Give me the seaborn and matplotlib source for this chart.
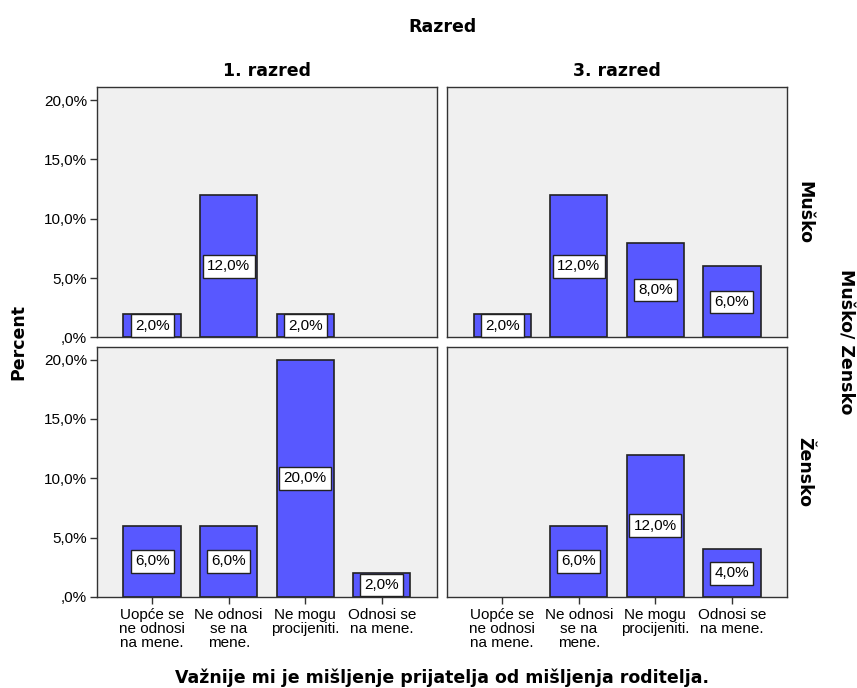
import matplotlib
matplotlib.use("Agg")
import matplotlib.pyplot as plt
from matplotlib.ticker import FuncFormatter
import pandas as pd
import seaborn as sns

# Data
categories = ["Uopće se\nne odnosi\nna mene.", "Ne odnosi\nse na\nmene.",
              "Ne mogu\nprocijeniti.", "Odnosi se\nna mene."]
razredi = ["1. razred", "3. razred"]
spolovi = ["Muško", "Žensko"]

musko_1 = [2.0, 12.0, 2.0, 0.0]
musko_3 = [2.0, 12.0, 8.0, 6.0]
zensko_1 = [6.0, 6.0, 20.0, 2.0]
zensko_3 = [0.0, 6.0, 12.0, 4.0]

panels = {
    ("Muško", "1. razred"): musko_1,
    ("Muško", "3. razred"): musko_3,
    ("Žensko", "1. razred"): zensko_1,
    ("Žensko", "3. razred"): zensko_3,
}

sns.set_style("white")
plt.rcParams["font.family"] = ["Liberation Sans", "DejaVu Sans"]
plt.rcParams["text.color"] = "black"
plt.rcParams["xtick.color"] = "black"
plt.rcParams["ytick.color"] = "black"

bar_color = "#5858FF"
bg_color = "#F0F0F0"
edge = "#333333"


def pct(v, pos=None):
    s = f"{v:.1f}%".replace(".", ",")
    if s.startswith("0,"):
        s = s[1:]
    return s


fig, axes = plt.subplots(2, 2, figsize=(8.57, 6.88), dpi=100)
fig.subplots_adjust(left=0.1132, right=0.9183, top=0.8735, bottom=0.1323,
                    wspace=0.03, hspace=0.036)

for r, spol in enumerate(spolovi):
    for c, raz in enumerate(razredi):
        ax = axes[r, c]
        vals = panels[(spol, raz)]
        df = pd.DataFrame({"cat": categories, "value": vals})
        sns.barplot(data=df[df["value"] > 0], x="cat", y="value", order=categories,
                    color=bar_color, saturation=1, width=0.75,
                    edgecolor="#222222", linewidth=1.2, ax=ax)
        ax.set_facecolor(bg_color)
        ax.set_xlim(-0.72, 3.72)
        ax.set_ylim(0, 21.1)
        ax.set_yticks([0, 5, 10, 15, 20])
        ax.yaxis.set_major_formatter(FuncFormatter(pct))
        ax.set_xlabel("")
        ax.set_ylabel("")
        for sp in ax.spines.values():
            sp.set_color(edge)
            sp.set_linewidth(1.0)
        for i, v in enumerate(vals):
            if v > 0:
                ax.text(i, v / 2, pct(v), ha="center", va="center", fontsize=11,
                        bbox=dict(boxstyle="square,pad=0.28", fc="white",
                                  ec="#222222", lw=1.0))
        ax.tick_params(axis="both", direction="out", length=5, width=1,
                       color=edge, labelsize=11)
        if c == 0:
            ax.tick_params(axis="y", left=True, labelleft=True, pad=2)
        else:
            ax.tick_params(axis="y", left=False, labelleft=False)
        if r == 1:
            ax.tick_params(axis="x", bottom=True, labelbottom=True, pad=3)
            ax.set_xticklabels(categories, linespacing=1.0)
        else:
            ax.tick_params(axis="x", bottom=False, labelbottom=False)
        if r == 0:
            ax.set_title(raz, fontsize=12.5, fontweight="bold",
                         family="DejaVu Sans", pad=8)
        if c == 1:
            ax.text(1.025, 0.5, spol, transform=ax.transAxes, rotation=-90,
                    ha="left", va="center", fontsize=12.5, fontweight="bold",
                    family="DejaVu Sans")

fig.text(0.516, 0.961, "Razred", ha="center", va="center", fontsize=12.5,
         fontweight="bold", family="DejaVu Sans")
fig.text(0.516, 0.015, "Važnije mi je mišljenje prijatelja od mišljenja roditelja.",
         ha="center", va="center", fontsize=12.5, fontweight="bold",
         family="DejaVu Sans")
fig.text(0.021, 0.503, "Percent", ha="center", va="center", rotation=90,
         fontsize=12.5, fontweight="bold", family="DejaVu Sans")
fig.text(0.986, 0.503, "Muško/ Zensko", ha="center", va="center", rotation=-90,
         fontsize=12.5, fontweight="bold", family="DejaVu Sans")

fig.savefig("out.png", dpi=100)
